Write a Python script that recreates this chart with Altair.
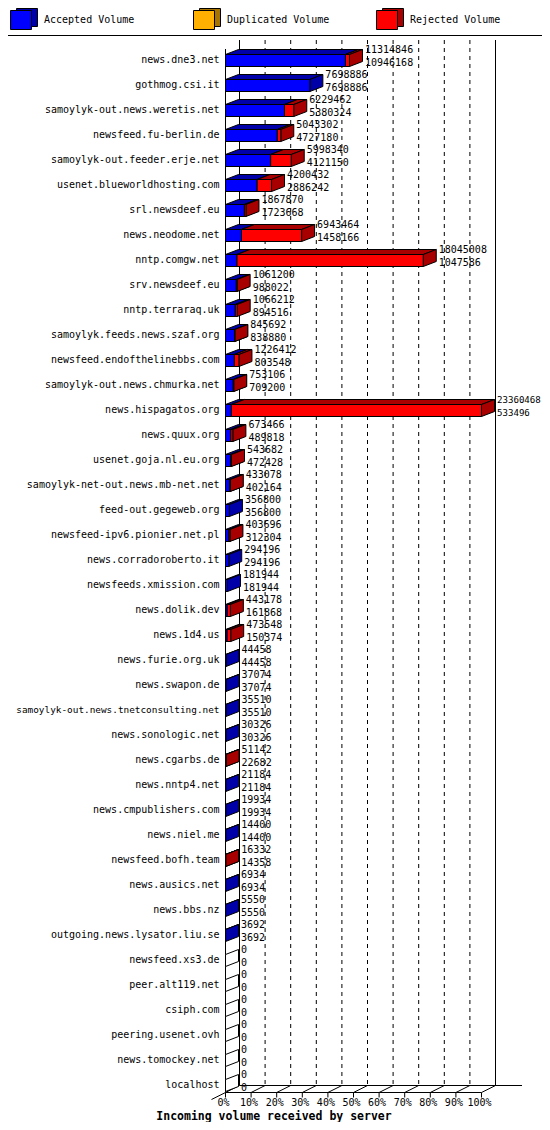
import altair as alt
import pandas as pd

# incoming volume per feeding server: total received and accepted part
servers = [
    "news.dne3.net", "gothmog.csi.it", "samoylyk-out.news.weretis.net",
    "newsfeed.fu-berlin.de", "samoylyk-out.feeder.erje.net",
    "usenet.blueworldhosting.com", "srl.newsdeef.eu", "news.neodome.net",
    "nntp.comgw.net", "srv.newsdeef.eu", "nntp.terraraq.uk",
    "samoylyk.feeds.news.szaf.org", "newsfeed.endofthelinebbs.com",
    "samoylyk-out.news.chmurka.net", "news.hispagatos.org", "news.quux.org",
    "usenet.goja.nl.eu.org", "samoylyk-net-out.news.mb-net.net",
    "feed-out.gegeweb.org", "newsfeed-ipv6.pionier.net.pl",
    "news.corradoroberto.it", "newsfeeds.xmission.com", "news.dolik.dev",
    "news.1d4.us", "news.furie.org.uk", "news.swapon.de",
    "samoylyk-out.news.tnetconsulting.net", "news.sonologic.net",
    "news.cgarbs.de", "news.nntp4.net", "news.cmpublishers.com",
    "news.niel.me", "newsfeed.bofh.team", "news.ausics.net", "news.bbs.nz",
    "outgoing.news.lysator.liu.se", "newsfeed.xs3.de", "peer.alt119.net",
    "csiph.com", "peering.usenet.ovh", "news.tomockey.net", "localhost",
]
total_volume = [
    11314846, 7698886, 6229462, 5043302, 5998340, 4200432, 1867870, 6943464,
    18045008, 1061200, 1066212, 845692, 1226412, 753106, 23360468, 673466,
    543682, 433078, 356800, 403696, 294196, 181944, 443178, 473548, 44458,
    37074, 35510, 30326, 51142, 21184, 19934, 14400, 16332, 6934, 5550, 3692,
    0, 0, 0, 0, 0, 0,
]
accepted_volume = [
    10946168, 7698886, 5380324, 4727180, 4121150, 2886242, 1723668, 1458166,
    1047586, 988022, 894516, 838880, 803548, 709200, 533496, 489818, 472428,
    402164, 356800, 312304, 294196, 181944, 161868, 150374, 44458, 37074,
    35510, 30326, 22682, 21184, 19934, 14400, 14358, 6934, 5550, 3692,
    0, 0, 0, 0, 0, 0,
]

legend_names = ["Accepted Volume", "Duplicated Volume", "Rejected Volume"]
front_colours = ["#0000ff", "#ffb000", "#ff0000"]
dark_colours = ["#0000a8", "#a87400", "#a80000"]

tick_pcts = [0, 10, 20, 30, 40, 50, 60, 70, 80, 90, 100]
tick_labels = ["0%", "10%", "20%", "30%", "40%", "50%", "60%", "70%", "80%", "90%", "100%"]

title_text = "Incoming volume received by server"

FONT = "DejaVu Sans Mono"
W, H = 534, 1114
PX = 2.56      # pixels per percent
X0 = 217.5     # pixel of 0 %
ROW = 25.0     # pixels per server row
Y0 = 52.5      # pixel of the first row centre

BH = 6 / ROW                   # half height of a bar front
BDX, BDY = 13 / PX, 5 / ROW    # bar depth
DXF, DYF = 14 / PX, 7 / ROW    # floor depth
FRONT = (1084.5 - Y0) / ROW
BACK = FRONT - DYF
TOP = (32 - Y0) / ROW

xs = alt.Scale(domain=[-X0 / PX, (W - X0) / PX], nice=False, zero=False)
ys = alt.Scale(domain=[-Y0 / ROW, (H - Y0) / ROW], nice=False, zero=False, reverse=True)


def qx(f):
    return alt.X(f"{f}:Q", scale=xs, axis=None)


def qy(f):
    return alt.Y(f"{f}:Q", scale=ys, axis=None)


peak = max(total_volume)
rows = pd.DataFrame({"name": servers, "total": total_volume, "accepted": accepted_volume})
rows["i"] = range(len(rows))
rows["acc_pct"] = rows["accepted"] / peak * 100
rows["tot_pct"] = rows["total"] / peak * 100
rows["base"] = 0.0
rows["tot_s"] = rows["total"].astype(str)
rows["acc_s"] = rows["accepted"].astype(str)

segs = []
for r in rows.itertuples():
    if r.accepted > 0:
        segs.append(("acc", r.i, 0.0, r.acc_pct))
    if r.total > r.accepted:
        segs.append(("rej", r.i, r.acc_pct, r.tot_pct))
    if r.total == 0:
        segs.append(("none", r.i, 0.0, 0.0))

front, top, side = [], [], []
for n, (kind, i, s, e) in enumerate(segs):
    front.append(dict(seg=n, kind=kind, x=s, x2=e, y=i - BH, y2=i + BH))
    top.append(dict(seg=n, kind=kind, y=i - BH, x=s, x2=e))
    top.append(dict(seg=n, kind=kind, y=i - BH - BDY, x=s + BDX, x2=e + BDX))
    side.append(dict(seg=n, kind=kind, x=e, y=i - BH, y2=i + BH))
    side.append(dict(seg=n, kind=kind, x=e + BDX, y=i - BH - BDY, y2=i + BH - BDY))
front = pd.DataFrame(front)
top = pd.DataFrame(top)
side = pd.DataFrame(side)


def box(kind, face, dark, faces=("top", "side", "front")):
    out = []
    if "top" in faces:
        out.append(
            alt.Chart(top[top.kind == kind])
            .mark_area(orient="horizontal", fill=dark, stroke="black", strokeWidth=1)
            .encode(y=qy("y"), x=qx("x"), x2="x2", detail="seg:N")
        )
    if "side" in faces:
        out.append(
            alt.Chart(side[side.kind == kind])
            .mark_area(orient="vertical", fill=dark, stroke="black", strokeWidth=1)
            .encode(x=qx("x"), y=qy("y"), y2="y2", detail="seg:N")
        )
    if "front" in faces:
        out.append(
            alt.Chart(front[front.kind == kind])
            .mark_rect(fill=face, stroke="black", strokeWidth=1)
            .encode(x=qx("x"), x2="x2", y=qy("y"), y2="y2")
        )
    return out


# frame of the 3d plot
grid = pd.DataFrame({"x": [p + DXF for p in tick_pcts[1:-1]], "y": TOP, "y2": BACK})
lines = [
    (DXF, TOP, DXF, BACK), (100 + DXF, TOP, 100 + DXF, BACK),
    (0, (41 - Y0) / ROW, 0, FRONT),
    (0, FRONT, 100, FRONT), (DXF, BACK, (514 - X0) / PX, BACK),
    (0, FRONT, -DXF, FRONT + DYF),
]
for p in tick_pcts:
    lines.append((p, FRONT, p + DXF, BACK))
    lines.append((p, FRONT, p, FRONT + 5 / ROW))
lines = pd.DataFrame(lines, columns=["x", "y", "x2", "y2"])
ticks = pd.DataFrame({"x": tick_pcts, "lab": tick_labels, "y": (1095 - Y0) / ROW})

grid_layer = alt.Chart(grid).mark_rule(color="black", strokeDash=[4, 4]).encode(
    x=qx("x"), y=qy("y"), y2="y2")
line_layer = alt.Chart(lines).mark_rule(color="black", strokeWidth=1).encode(
    x=qx("x"), y=qy("y"), x2="x2", y2="y2")
tick_text = alt.Chart(ticks).mark_text(font=FONT, fontSize=10, dx=-2, baseline="middle").encode(
    x=qx("x"), y=qy("y"), text="lab:N")

host_text = alt.Chart(rows).mark_text(
    font=FONT, align="right", baseline="middle", dx=-6, dy=-1
).encode(
    x=qx("base"), y=qy("i"), text="name:N",
    size=alt.condition("length(datum.name) > 33", alt.value(9.4), alt.value(10)),
)
# the labels of the longest bar are squeezed a little so they stay on the page
label_size = alt.condition("datum.tot_pct > 95", alt.value(9.1), alt.value(10))
tot_text = alt.Chart(rows).mark_text(
    font=FONT, align="left", baseline="middle", dx=15.5, dy=-10.5
).encode(x=qx("tot_pct"), y=qy("i"), text="tot_s:N", size=label_size)
acc_text = alt.Chart(rows).mark_text(
    font=FONT, align="left", baseline="middle", dx=15.5, dy=2
).encode(x=qx("tot_pct"), y=qy("i"), text="acc_s:N", size=label_size)

one = pd.DataFrame({"k": [0]})
title = alt.Chart(one).mark_text(
    font=FONT, fontSize=11.5, fontWeight="bold", align="center", baseline="middle", text=title_text
).encode(x=alt.value(266), y=alt.value(1108.5))

legend = []
for j, (name, face, dark) in enumerate(zip(legend_names, front_colours, dark_colours)):
    cx = 2 + 183 * j
    legend.append(alt.Chart(one).mark_rect(fill=dark, stroke="black").encode(
        x=alt.value(cx + 6.5), x2=alt.value(cx + 27.5), y=alt.value(0.5), y2=alt.value(18.5)))
    legend.append(alt.Chart(one).mark_rect(fill=face, stroke="black").encode(
        x=alt.value(cx + 0.5), x2=alt.value(cx + 21.5), y=alt.value(2.5), y2=alt.value(21.5)))
    legend.append(alt.Chart(one).mark_text(
        font=FONT, fontSize=10, align="left", baseline="middle", text=name
    ).encode(x=alt.value(cx + 34), y=alt.value(12)))

frame = [
    alt.Chart(one).mark_rule(color="black").encode(x=alt.value(0), x2=alt.value(W), y=alt.value(27.5)),
]

layers = [grid_layer, line_layer]
layers += box("none", "white", "white", faces=("side",))
layers += box("acc", front_colours[0], dark_colours[0])
layers += box("rej", front_colours[2], dark_colours[2])
layers += [host_text, tot_text, acc_text, tick_text, title] + legend + frame

chart = (
    alt.layer(*layers)
    .properties(width=W, height=H, autosize=alt.AutoSizeParams(type="none"), padding=0, background="white")
    .configure_view(stroke=None)
)

chart.save("out.html", embed_options={"renderer": "svg", "actions": False})
